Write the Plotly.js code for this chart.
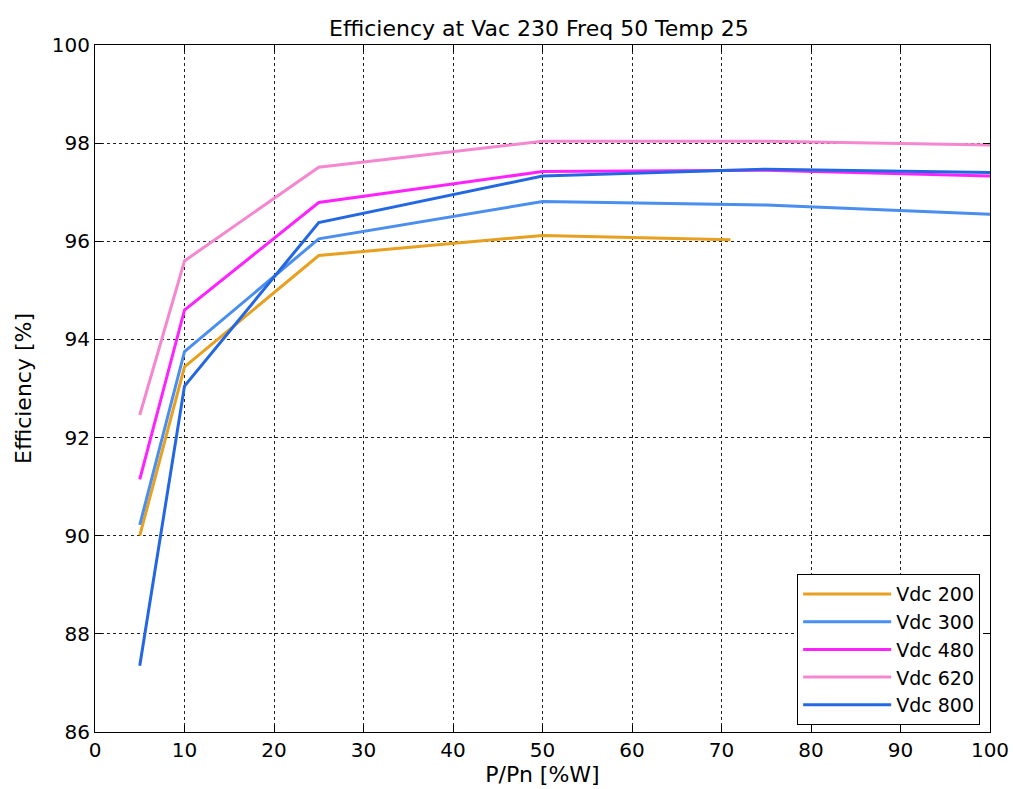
<!DOCTYPE html>
<html>
<head>
<meta charset="utf-8">
<script src="https://cdn.plot.ly/plotly-3.0.1.min.js"></script>
<style>html,body{margin:0;padding:0;background:#fff;}#chart{width:1013px;height:789px;}</style>
</head>
<body>
<div id="chart"></div>
<script>
const xFull = [5, 10, 25, 50, 75, 100];
const x200 = [5, 10, 25, 50, 71];
const vdc200 = [90.0, 93.44, 95.71, 96.12, 96.03];
const vdc300 = [90.22, 93.75, 96.05, 96.81, 96.74, 96.55];
const vdc480 = [91.15, 94.6, 96.79, 97.42, 97.45, 97.33];
const vdc620 = [92.46, 95.6, 97.51, 98.04, 98.04, 97.96];
const vdc800 = [87.35, 93.05, 96.38, 97.33, 97.47, 97.40];
const names = ['Vdc 200', 'Vdc 300', 'Vdc 480', 'Vdc 620', 'Vdc 800'];
const colors = ['#e8a020', '#4a8ef0', '#ff22ff', '#f587d0', '#2368e2'];

const xs = [x200, xFull, xFull, xFull, xFull];
const ys = [vdc200, vdc300, vdc480, vdc620, vdc800];
const traces = ys.map((y, i) => ({
  x: xs[i], y: y, type: 'scatter', mode: 'lines', name: names[i],
  line: {color: colors[i], width: 3}
}));

const FONT = 'DejaVu Sans, Liberation Sans, Arial, sans-serif';
const axisCommon = {
  showline: true, linecolor: '#000', linewidth: 1, mirror: 'ticks',
  ticks: 'inside', ticklen: 7, tickcolor: '#000',
  showgrid: true, gridcolor: '#222', griddash: 'dot', gridwidth: 1,
  zeroline: false, tickfont: {family: FONT, size: 20, color: '#000'}
};

const layout = {
  width: 1013, height: 789,
  margin: {l: 95, r: 23, t: 45, b: 57},
  paper_bgcolor: '#fff', plot_bgcolor: '#fff',
  font: {family: FONT, color: '#000'},
  title: {text: 'Efficiency at Vac 230 Freq 50 Temp 25', x: 0.532, xanchor: 'center', y: 0.964, yanchor: 'middle',
          font: {size: 22, color: '#000'}},
  xaxis: Object.assign({}, axisCommon, {range: [0, 100], dtick: 10,
    title: {text: 'P/Pn [%W]', font: {size: 22}, standoff: 2}}),
  yaxis: Object.assign({}, axisCommon, {range: [86, 100], dtick: 2,
    title: {text: 'Efficiency [%]', font: {size: 22}, standoff: 14}}),
  legend: {x: 0.989, xanchor: 'right', y: 0.01, yanchor: 'bottom',
    bordercolor: '#000', borderwidth: 1, bgcolor: '#fff',
    font: {size: 19, color: '#000'}, tracegroupgap: 0, itemwidth: 88},
  showlegend: true
};

Plotly.newPlot('chart', traces, layout, {displayModeBar: false, staticPlot: true});
</script>
</body>
</html>
